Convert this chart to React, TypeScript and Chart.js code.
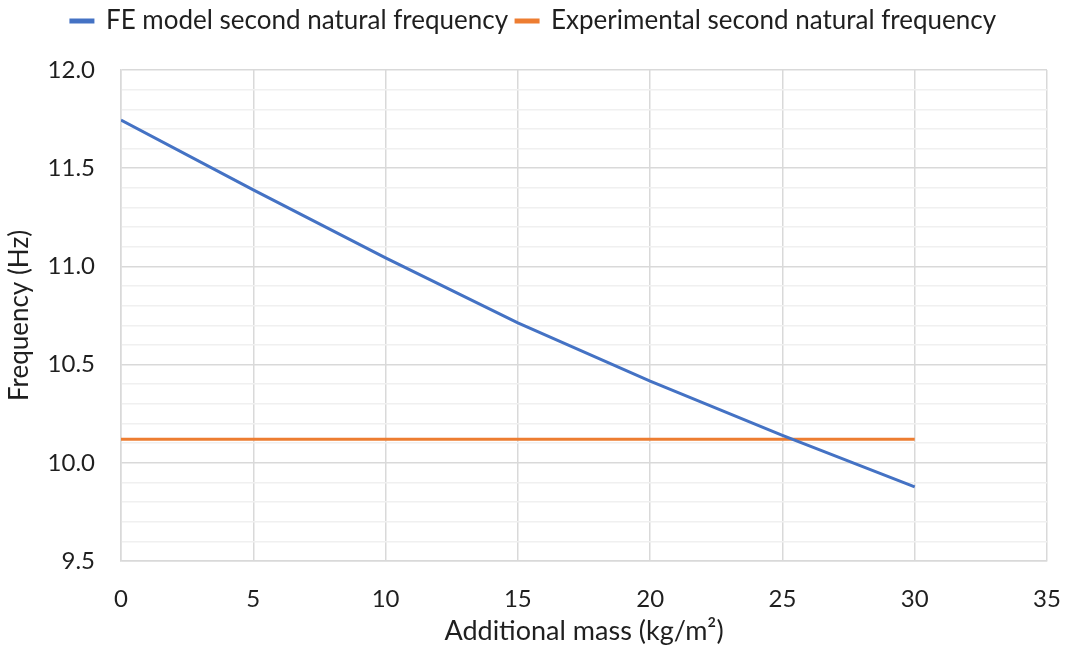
import React, { useEffect, useRef } from "react";
import { Chart, registerables } from "chart.js";

Chart.register(...registerables);

// Additional mass per unit area (kg/m²)
const massValues = [0, 5, 10, 15, 20, 25, 30];
// Second natural frequency from the FE model (Hz)
const feFrequency = [11.745, 11.39, 11.043, 10.712, 10.416, 10.14, 9.877];
// Experimentally measured second natural frequency (Hz), shown as a constant reference
const experimentalMass = [0, 30];
const experimentalFrequency = [10.12, 10.12];

const xTicks = [0, 5, 10, 15, 20, 25, 30, 35];
const yMin = 9.5;
const yMax = 12.0;

const FONT = "Lato, 'Open Sans', 'DejaVu Sans', sans-serif";
const TEXT = "#1f1f1f";

// Adds extra space below the legend so the plot starts lower
const legendGap = {
  id: "legendGap",
  beforeUpdate(chart: any) {
    const legend = chart.legend;
    if (legend && !legend.__gapPatched) {
      const fit = legend.fit.bind(legend);
      legend.fit = function () {
        fit();
        this.height += 26;
      };
      legend.__gapPatched = true;
    }
  },
};

const isHalfStep = (n: number) => Math.abs(n * 2 - Math.round(n * 2)) < 1e-6;

export default function App() {
  const canvasRef = useRef<HTMLCanvasElement | null>(null);

  useEffect(() => {
    if (!canvasRef.current) return;
    const chart = new Chart(canvasRef.current, {
      type: "line",
      plugins: [legendGap],
      data: {
        datasets: [
          {
            label: "FE model second natural frequency",
            data: massValues.map((m, i) => ({ x: m, y: feFrequency[i] })),
            borderColor: "#4472C4",
            backgroundColor: "#4472C4",
            borderWidth: 3,
            pointRadius: 0,
            tension: 0,
          },
          {
            label: "Experimental second natural frequency",
            data: experimentalMass.map((m, i) => ({ x: m, y: experimentalFrequency[i] })),
            borderColor: "#ED7D31",
            backgroundColor: "#ED7D31",
            borderWidth: 3,
            pointRadius: 0,
          },
        ],
      },
      options: {
        animation: false,
        responsive: true,
        maintainAspectRatio: false,
        layout: { padding: { top: 0, right: 0, left: 0, bottom: 0 } },
        plugins: {
          tooltip: { enabled: false },
          legend: {
            position: "top",
            labels: {
              color: TEXT,
              font: { family: FONT, size: 26 },
              boxWidth: 22,
              boxHeight: 2,
              padding: 8,
            },
          },
        },
        scales: {
          x: {
            type: "linear",
            min: 0,
            max: 35,
            afterBuildTicks: (scale: any) => {
              scale.ticks = xTicks.map((v) => ({ value: v }));
            },
            afterFit: (scale: any) => {
              scale.height = 90;
              scale.paddingLeft = 0;
              scale.paddingRight = 20;
            },
            ticks: {
              color: TEXT,
              font: { family: FONT, size: 24 },
              padding: 24,
              maxRotation: 0,
            },
            grid: { color: "#d9d9d9", lineWidth: 1.5, drawTicks: false },
            border: { color: "#d9d9d9", width: 1.5 },
            title: {
              display: true,
              text: "Additional mass (kg/m²)",
              color: TEXT,
              font: { family: FONT, size: 27 },
              padding: { top: 6 },
            },
          },
          y: {
            type: "linear",
            min: yMin,
            max: yMax,
            afterBuildTicks: (scale: any) => {
              const ticks = [];
              for (let i = 0; i <= 25; i++) {
                ticks.push({ value: Math.round((yMin + i * 0.1) * 10) / 10 });
              }
              scale.ticks = ticks;
            },
            afterFit: (scale: any) => {
              scale.width = 121;
            },
            ticks: {
              color: TEXT,
              font: { family: FONT, size: 24 },
              padding: 26,
              autoSkip: false,
              callback: (v: any) => {
                const n = Number(v);
                return isHalfStep(n) ? n.toFixed(1) : "";
              },
            },
            grid: {
              drawTicks: false,
              lineWidth: 1.5,
              color: (ctx: any) => {
                const n = ctx.tick ? ctx.tick.value : 0;
                return isHalfStep(n) ? "#d9d9d9" : "#f0f0f0";
              },
            },
            border: { color: "#d9d9d9", width: 1.5 },
            title: {
              display: true,
              text: "Frequency (Hz)",
              color: TEXT,
              font: { family: FONT, size: 26 },
              padding: { bottom: 0, top: 4 },
            },
          },
        },
      },
    });
    return () => chart.destroy();
  }, []);

  return (
    <div style={{ position: "fixed", left: 0, top: 0, width: 1067, height: 651, background: "#fff" }}>
      <canvas ref={canvasRef} />
    </div>
  );
}
